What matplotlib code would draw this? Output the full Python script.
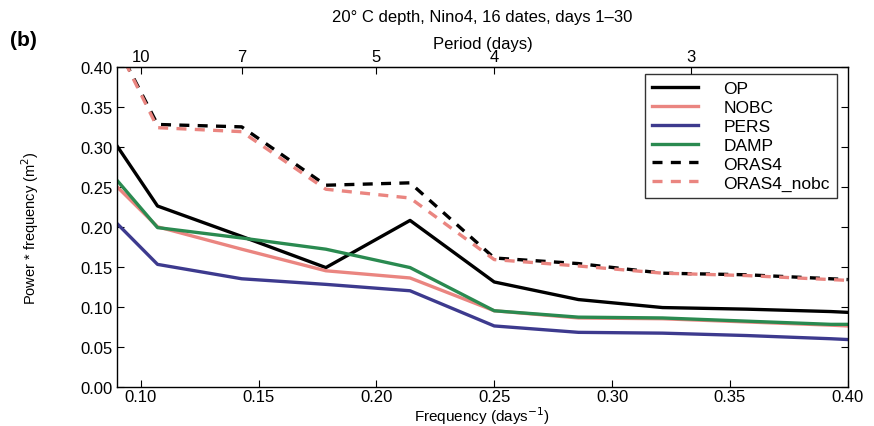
import numpy as np
import matplotlib
matplotlib.use("Agg")
import matplotlib.pyplot as plt

plt.rcParams['font.family'] = ['Liberation Sans', 'DejaVu Sans']

# frequencies (days^-1): left edge, k/28 for k=3..11, right edge
freq = [0.09, 3/28, 4/28, 5/28, 6/28, 7/28, 8/28, 9/28, 10/28, 11/28, 0.40]

op    = [0.301, 0.226, 0.188, 0.149, 0.208, 0.131, 0.109, 0.099, 0.097, 0.094, 0.093]
nobc  = [0.250, 0.200, 0.172, 0.145, 0.136, 0.095, 0.086, 0.085, 0.081, 0.077, 0.076]
pers  = [0.204, 0.153, 0.135, 0.128, 0.120, 0.076, 0.068, 0.067, 0.064, 0.060, 0.059]
damp  = [0.258, 0.199, 0.186, 0.172, 0.149, 0.095, 0.087, 0.086, 0.082, 0.078, 0.078]
oras4 = [0.426, 0.328, 0.325, 0.252, 0.255, 0.161, 0.154, 0.142, 0.140, 0.135, 0.134]
oras4_nobc = [0.426, 0.324, 0.319, 0.247, 0.236, 0.159, 0.151, 0.142, 0.139, 0.134, 0.133]

period_ticks = [10, 7, 5, 4, 3]

fs = 12

fig = plt.figure(figsize=(8.74, 4.27), dpi=100)
ax = fig.add_axes([0.134, 0.092, 0.836, 0.749])

lw = 2.4
ax.plot(freq, op, color='black', lw=lw, label='OP')
ax.plot(freq, nobc, color='#ea8580', lw=lw, label='NOBC')
ax.plot(freq, pers, color='#3d3a8e', lw=lw, label='PERS')
ax.plot(freq, damp, color='#2a8a50', lw=lw, label='DAMP')
ax.plot(freq, oras4, color='black', lw=lw, ls=(0, (3, 2.5)), label='ORAS4')
ax.plot(freq, oras4_nobc, color='#ea8580', lw=lw, ls=(0, (3, 2.5)), label='ORAS4_nobc')

ax.set_xlim(0.09, 0.40)
ax.set_ylim(0, 0.40)
ax.set_xticks(np.arange(0.10, 0.401, 0.05))
ax.set_yticks(np.arange(0, 0.401, 0.05))
ax.xaxis.set_major_formatter(matplotlib.ticker.FormatStrFormatter('%.2f'))
ax.yaxis.set_major_formatter(matplotlib.ticker.FormatStrFormatter('%.2f'))
ax.tick_params(direction='in', labelsize=fs, right=True, length=5)
ax.tick_params(axis='x', pad=2)
for s in ax.spines.values():
    s.set_linewidth(1.0)

def f2p(f):
    f = np.asarray(f, dtype=float)
    return 1 / np.where(f == 0, 1e-9, f)

sec = ax.secondary_xaxis('top', functions=(f2p, f2p))
sec.set_xticks(period_ticks)
sec.set_xticklabels([str(p) for p in period_ticks])
sec.tick_params(direction='in', labelsize=fs, length=5, pad=2)
sec.set_xlabel('Period (days)', fontsize=fs, labelpad=1)

ax.set_xlabel('Frequency (days$^{-1}$)', fontsize=11)
ax.xaxis.set_label_coords(0.5, -0.054)
ax.set_ylabel('Power * frequency (m$^2$)', fontsize=10.5)
ax.yaxis.set_label_coords(-0.104, 0.5)

fig.text(0.552, 0.96, '20° C depth, Nino4, 16 dates, days 1–30', ha='center', va='center', fontsize=fs)
fig.text(0.012, 0.905, '(b)', ha='left', va='center', fontsize=15, fontweight='bold')

leg = ax.legend(loc='upper right', bbox_to_anchor=(0.99, 0.99), fontsize=12.5, frameon=True,
                fancybox=False, edgecolor='black', handlelength=2.6, labelspacing=0.22,
                borderpad=0.4, handletextpad=1.5, borderaxespad=0.2)
leg.get_frame().set_linewidth(1.0)

fig.savefig('out.png', dpi=100)
